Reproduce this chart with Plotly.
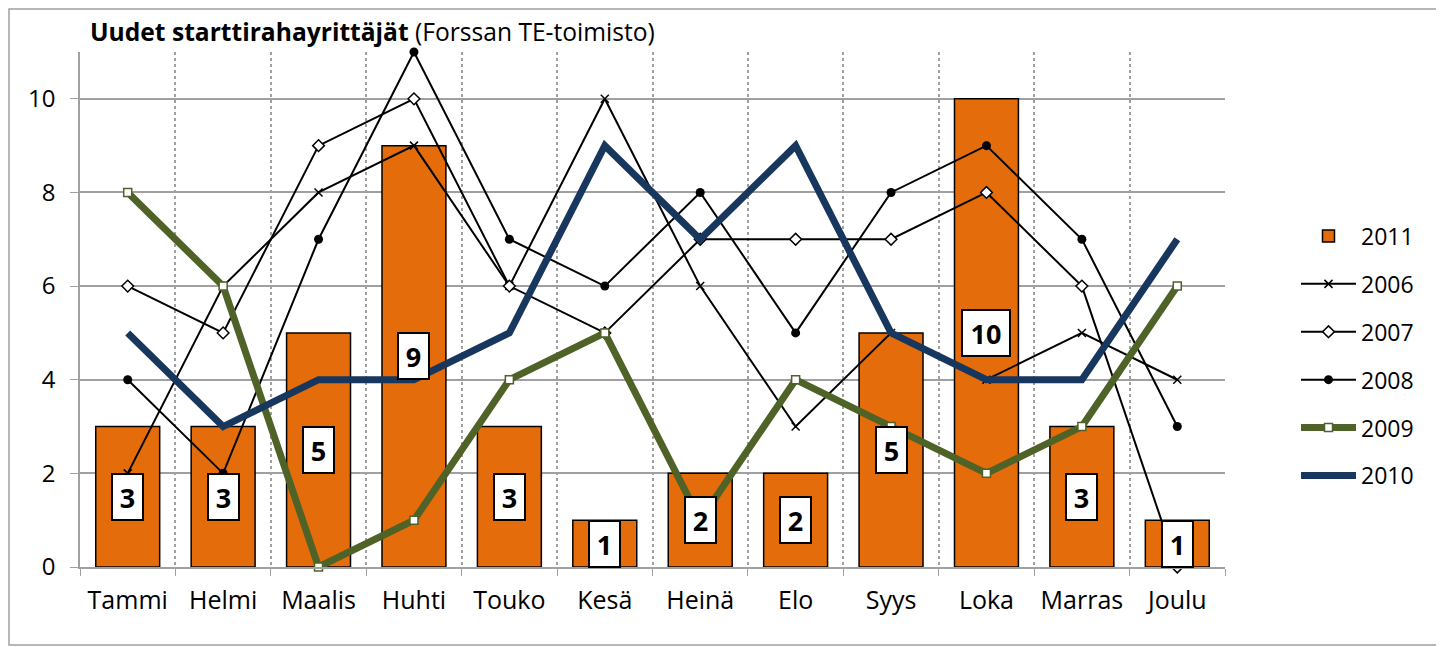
import plotly.graph_objects as go

months = ["Tammi", "Helmi", "Maalis", "Huhti", "Touko", "Kesä", "Heinä", "Elo", "Syys", "Loka", "Marras", "Joulu"]
y2011 = [3, 3, 5, 9, 3, 1, 2, 2, 5, 10, 3, 1]
y2006 = [2, 6, 8, 9, 6, 10, 6, 3, 5, 4, 5, 4]
y2007 = [6, 5, 9, 10, 6, 5, 7, 7, 7, 8, 6, 0]
y2008 = [4, 2, 7, 11, 7, 6, 8, 5, 8, 9, 7, 3]
y2009 = [8, 6, 0, 1, 4, 5, 1, 4, 3, 2, 3, 6]
y2010 = [5, 3, 4, 4, 5, 9, 7, 9, 5, 4, 4, 7]
yticks = [0, 2, 4, 6, 8, 10]

FONT = "Open Sans"
fig = go.Figure()

fig.add_trace(go.Bar(x=months, y=y2011, name="2011", marker=dict(color="#E46C0A", line=dict(color="black", width=1.5)),
                     legendgroup="a"))
fig.add_trace(go.Scatter(x=months, y=y2006, name="2006", mode="lines+markers", cliponaxis=False,
                         line=dict(color="black", width=2),
                         marker=dict(symbol="x-thin", size=8, line=dict(color="black", width=1.5)), legendgroup="b"))
fig.add_trace(go.Scatter(x=months, y=y2007, name="2007", mode="lines+markers", cliponaxis=False,
                         line=dict(color="black", width=2),
                         marker=dict(symbol="diamond", size=9, color="white", line=dict(color="black", width=1.5)), legendgroup="c"))
fig.add_trace(go.Scatter(x=months, y=y2008, name="2008", mode="lines+markers", cliponaxis=False,
                         line=dict(color="black", width=2),
                         marker=dict(symbol="circle", size=9, color="black"), legendgroup="d"))
fig.add_trace(go.Scatter(x=months, y=y2009, name="2009", mode="lines+markers", cliponaxis=False,
                         line=dict(color="#4F6228", width=7),
                         marker=dict(symbol="square", size=8, color="white", line=dict(color="#4F6228", width=1.5)), legendgroup="e"))
fig.add_trace(go.Scatter(x=months, y=y2010, name="2010", mode="lines", cliponaxis=False,
                         line=dict(color="#17375E", width=7), legendgroup="f"))

for m, v in zip(months, y2011):
    txt = str(v)
    fig.add_annotation(x=m, y=v / 2, text=f"<b>{txt}</b>", showarrow=False,
                       font=dict(family=FONT, size=27, color="black"),
                       width=6 + 17 * len(txt), height=38, align="center", valign="middle",
                       bgcolor="white", bordercolor="black", borderwidth=2, borderpad=3)

# page body offsets content by 8px; compensate
W, H = 1436, 639
L, T = 72, 44
R = W - (1225 - 8)
B = H - (567 - 8)
pw, ph = W - L - R, H - T - B
fig.add_shape(type="rect", xref="paper", yref="paper",
              x0=(1 - L) / pw, x1=(W - 2 - L) / pw, y0=-(H - 2 - T - ph) / ph, y1=1 + (T - 1) / ph,
              line=dict(color="#A0A0A0", width=1.5), layer="below")

fig.update_layout(
    width=W, height=H,
    margin=dict(l=L, r=R, t=T, b=B, autoexpand=False),
    paper_bgcolor="white", plot_bgcolor="white",
    bargap=0.33,
    font=dict(family=FONT, size=22, color="black"),
    title=dict(text="<b>Uudet starttirahayrittäjät</b> (Forssan TE-toimisto)",
               x=(90 - 8) / W, xanchor="left", y=1 - (32 - 8) / H, yanchor="middle",
               font=dict(family=FONT, size=24.6, color="black")),
    legend=dict(x=(1296 - 8 - L) / pw, xanchor="left", y=1 - (356 - 8 - T) / ph, itemwidth=55,
                yanchor="middle", font=dict(size=23), tracegroupgap=15, bgcolor="rgba(0,0,0,0)"),
    xaxis=dict(type="category", tickson="boundaries", range=[-0.5, 11.5], showgrid=True, griddash="dot",
               gridcolor="#A0A0A0", gridwidth=1.5, showline=True, linecolor="#A0A0A0", linewidth=1.5,
               ticks="outside", ticklen=7, tickcolor="#A0A0A0", tickfont=dict(size=25), ticklabelstandoff=10),
    yaxis=dict(range=[0, 11], tickvals=yticks, showgrid=True, gridcolor="#A0A0A0", gridwidth=1.5,
               showline=True, linecolor="#A0A0A0", linewidth=1.5, zeroline=False,
               ticks="outside", ticklen=8, tickcolor="#A0A0A0", tickfont=dict(size=24), ticklabelstandoff=10),
)

fig.write_html("out.html")
